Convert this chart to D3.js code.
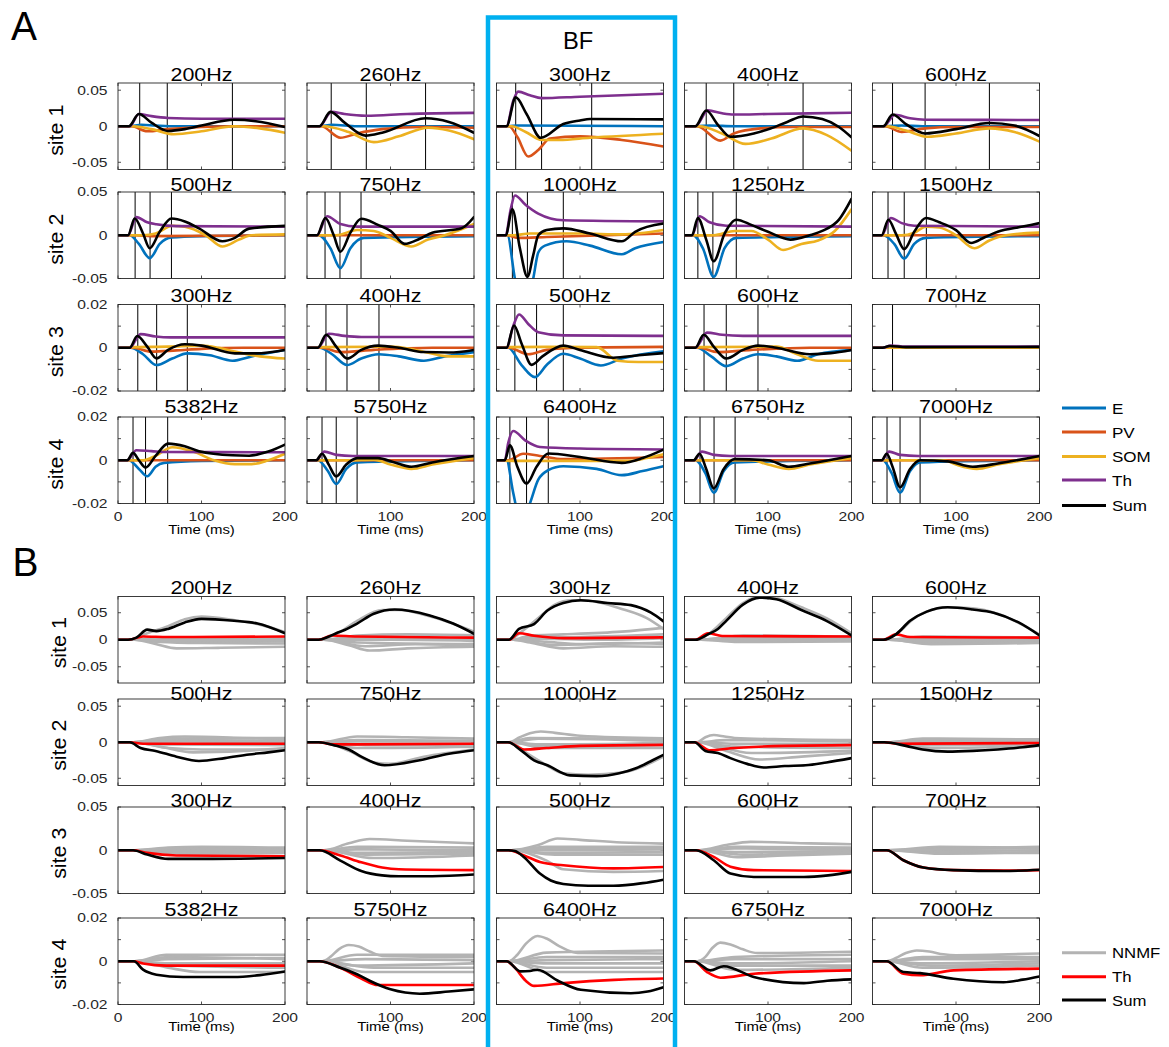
<!DOCTYPE html>
<html><head><meta charset="utf-8">
<script src="https://cdn.jsdelivr.net/npm/d3@7"></script>
<style>body{margin:0;background:#fff}</style>
</head><body><svg id="c" width="1169" height="1047"></svg>
<script>
// ================= DATA =================
const titlesRow1 = ["200Hz","260Hz","300Hz","400Hz","600Hz"];
const titlesRow2 = ["500Hz","750Hz","1000Hz","1250Hz","1500Hz"];
const titlesRow3 = ["300Hz","400Hz","500Hz","600Hz","700Hz"];
const titlesRow4 = ["5382Hz","5750Hz","6400Hz","6750Hz","7000Hz"];
const siteLabels = ["site 1","site 2","site 3","site 4"];
const xTicks = [0,100,200];
const yMaxA = [0.06,0.05,0.02,0.02];
const yMaxB = [0.08,0.06,0.05,0.02];
const yTicksWide = [-0.05,0,0.05];
const yTicksNarrow = [-0.02,-0.01,0,0.01,0.02];
const yLabelsWide = ["-0.05","0","0.05"];
const yLabelsNarrow = ["-0.02","","0","","0.02"];
const legendA = ["E","PV","SOM","Th","Sum"];
const legendB = ["NNMF","Th","Sum"];

// ---- Panel A: [time(ms), value] ----
// site 1
const a11E=[[0,0],[14,0],[28,0.002],[45,0.001],[70,0],[200,0]];
const a11P=[[0,0],[16,0],[35,-0.007],[60,-0.004],[100,-0.001],[140,0],[200,0]];
const a11S=[[0,0],[18,0],[40,-0.004],[67,-0.011],[100,-0.007],[140,0],[170,-0.003],[200,-0.009]];
const a11T=[[0,0],[14,0],[25,0.017],[40,0.014],[60,0.0115],[100,0.0105],[200,0.0105]];
const a11Sum=[[0,0],[13,0],[25,0.017],[40,0.005],[60,-0.0065],[80,-0.004],[100,0.001],[139,0.009],[165,0.007],[200,-0.001]];
const a11V=[26,59,137];

const a12E=[[0,0],[15,0],[30,0.002],[60,0],[200,0]];
const a12P=[[0,0],[17,0],[40,-0.016],[60,-0.01],[90,-0.004],[140,-0.001],[200,-0.002]];
const a12S=[[0,0],[20,0],[50,-0.008],[80,-0.022],[110,-0.014],[145,-0.002],[170,-0.006],[200,-0.018]];
const a12T=[[0,0],[15,0],[29,0.02],[45,0.017],[71,0.0146],[120,0.017],[200,0.0185]];
const a12Sum=[[0,0],[15,0],[28,0.02],[45,0.005],[70,-0.013],[90,-0.009],[142,0.011],[170,0.006],[200,-0.009]];
const a12V=[29,71,142];

const a13E=[[0,0],[15,0],[25,0.001],[200,0]];
const a13P=[[0,0],[15,0],[25,-0.015],[38,-0.042],[50,-0.033],[64,-0.017],[100,-0.014],[150,-0.019],[200,-0.028]];
const a13S=[[0,0],[18,0],[35,-0.008],[54,-0.019],[75,-0.019],[112,-0.016],[200,-0.0105]];
const a13T=[[0,0],[12,0],[20,0.035],[26,0.048],[40,0.043],[54,0.039],[100,0.041],[200,0.045]];
const a13Sum=[[0,0],[12,0],[23,0.040],[36,0.017],[53,-0.016],[80,0.003],[100,0.008],[112,0.010],[200,0.0095]];
const a13V=[23,54,114];

const a14E=[[0,0],[15,0],[30,0.001],[60,0],[200,0]];
const a14P=[[0,0],[15,0],[43,-0.020],[59,-0.010],[91,-0.003],[130,-0.001],[200,-0.001]];
const a14S=[[0,0],[18,0],[45,-0.01],[73,-0.0245],[104,-0.017],[142,-0.003],[170,-0.012],[200,-0.034]];
const a14T=[[0,0],[13,0],[28,0.022],[45,0.018],[59,0.0163],[100,0.017],[200,0.0187]];
const a14Sum=[[0,0],[13,0],[26,0.0218],[40,0.002],[55,-0.0146],[83,-0.010],[103,-0.003],[123,0.006],[142,0.0136],[165,0.010],[185,-0.001],[200,-0.0154]];
const a14V=[26,59,142];

const a15E=[[0,0],[15,0],[35,0.001],[60,0],[200,0]];
const a15P=[[0,0],[15,0],[35,-0.0078],[63,-0.003],[100,-0.001],[200,-0.001]];
const a15S=[[0,0],[18,0],[40,-0.006],[66,-0.0146],[100,-0.010],[140,-0.003],[170,-0.008],[200,-0.0214]];
const a15T=[[0,0],[13,0],[27,0.016],[45,0.011],[63,0.009],[200,0.0087]];
const a15Sum=[[0,0],[13,0],[24,0.0163],[40,0.003],[63,-0.010],[100,-0.004],[140,0.0045],[170,0.001],[200,-0.0136]];
const a15V=[24,63,140];

// site 2
const a21E=[[0,0],[14,0],[25,-0.01],[38,-0.0265],[50,-0.01],[64,-0.0025],[100,-0.001],[200,0]];
const a21P=[[0,0],[20,0],[40,-0.001],[200,0]];
const a21S=[[0,0],[30,0],[45,0.002],[65,0.011],[80,0.010],[105,0],[125,-0.013],[145,-0.005],[160,0],[200,0.001]];
const a21T=[[0,0],[12,0],[22,0.021],[35,0.015],[46,0.0127],[70,0.0105],[200,0.010]];
const a21Sum=[[0,0],[12,0],[20,0.0193],[30,0.002],[38,-0.015],[50,0.004],[64,0.0193],[80,0.016],[97,0.008],[125,-0.0069],[140,-0.003],[157,0.0077],[200,0.0108]];
const a21V=[20.5,38.4,64];

const a22E=[[0,0],[14,0],[28,-0.015],[40,-0.038],[52,-0.015],[68,-0.003],[200,-0.001]];
const a22P=[[0,0],[200,0]];
const a22S=[[0,0],[35,0],[60,0.006],[80,0.005],[100,-0.003],[125,-0.013],[145,-0.005],[165,0],[200,0.013]];
const a22T=[[0,0],[12,0],[24,0.022],[40,0.013],[60,0.010],[200,0.010]];
const a22Sum=[[0,0],[12,0],[22,0.02],[32,0],[40,-0.019],[52,0.003],[65,0.019],[85,0.012],[100,0.005],[117,-0.01],[135,-0.004],[150,0.003],[185,0.008],[200,0.021]];
const a22V=[21.6,39.5,64.7];

const a23E=[[0,0],[13,0],[22,-0.05],[33,-0.09],[44,-0.05],[50,-0.02],[58,-0.012],[84,-0.007],[112,-0.012],[150,-0.022],[166,-0.015],[200,-0.0077]];
const a23P=[[0,0],[13,0],[25,-0.003],[60,-0.002],[200,0.002]];
const a23S=[[0,0],[20,0],[40,0.002],[100,0.002],[150,0.001],[200,0.006]];
const a23T=[[0,0],[11,0],[17,0.03],[22,0.046],[35,0.035],[50,0.025],[80,0.0173],[200,0.016]];
const a23Sum=[[0,0],[11,0],[19,0.030],[28,-0.015],[37,-0.048],[44,-0.023],[50,0.0],[60,0.006],[80,0.008],[112,0.002],[150,-0.007],[166,0.004],[200,0.0135]];
const a23V=[19,37,80];

const a24E=[[0,0],[10,0],[22,-0.015],[35,-0.048],[48,-0.015],[62,-0.003],[200,-0.001]];
const a24P=[[0,0],[200,0]];
const a24S=[[0,0],[35,0],[60,0.005],[80,0.005],[100,-0.005],[118,-0.017],[140,-0.01],[160,-0.006],[180,0.005],[200,0.030]];
const a24T=[[0,0],[9,0],[18,0.022],[30,0.015],[50,0.011],[200,0.010]];
const a24Sum=[[0,0],[9,0],[16,0.02],[26,-0.005],[35,-0.030],[48,0.002],[62,0.018],[80,0.012],[100,0.004],[127,-0.005],[150,0.0],[165,0.005],[185,0.018],[200,0.042]];
const a24V=[16,34,62];

const a25E=[[0,0],[13,0],[26,-0.01],[38,-0.027],[50,-0.01],[64,-0.003],[200,-0.001]];
const a25P=[[0,0],[200,0]];
const a25S=[[0,0],[35,0],[50,0.003],[64,0.010],[80,0.009],[100,0.0],[122,-0.015],[140,-0.006],[160,0],[200,0.003]];
const a25T=[[0,0],[11,0],[22,0.020],[35,0.014],[50,0.011],[200,0.010]];
const a25Sum=[[0,0],[11,0],[19,0.018],[28,0.002],[38,-0.016],[50,0.004],[64,0.020],[80,0.015],[100,0.006],[118,-0.009],[135,-0.002],[150,0.004],[180,0.01],[200,0.014]];
const a25V=[18.6,38,64.5];

// site 3
const a31E=[[0,0],[15,0],[30,-0.003],[46,-0.008],[65,-0.005],[83,-0.0026],[110,-0.0035],[137,-0.006],[160,-0.004],[200,-0.001]];
const a31P=[[0,0],[18,0],[40,-0.0018],[70,-0.0012],[100,-0.0005],[150,0],[200,0]];
const a31S=[[0,0],[20,0.0003],[60,0.0005],[100,0.001],[120,0],[140,-0.0018],[170,-0.004],[200,-0.005]];
const a31T=[[0,0],[14,0],[27,0.0063],[45,0.0052],[63,0.0048],[200,0.0048]];
const a31Sum=[[0,0],[14,0],[23,0.0054],[35,0.0005],[46,-0.0049],[60,-0.001],[80,0.0016],[100,0.001],[140,-0.0026],[165,-0.0026],[200,-0.001]];
const a31V=[23.7,46.3,83];

const a32E=[[0,0],[15,0],[30,-0.003],[48,-0.008],[65,-0.005],[86,-0.003],[110,-0.004],[140,-0.006],[165,-0.004],[200,-0.002]];
const a32P=[[0,0],[18,0],[40,-0.002],[80,-0.001],[150,0],[200,0]];
const a32S=[[0,0],[20,0.0003],[100,0.0005],[130,-0.001],[170,-0.004],[200,-0.004]];
const a32T=[[0,0],[13,0],[26,0.0065],[45,0.0055],[65,0.005],[200,0.005]];
const a32Sum=[[0,0],[13,0],[23,0.006],[35,0.0005],[48,-0.005],[65,-0.001],[85,0.001],[110,0],[140,-0.002],[170,-0.0022],[200,-0.001]];
const a32V=[22.7,47.9,86.2];

const a33E=[[0,0],[14,0],[30,-0.008],[46,-0.0136],[60,-0.008],[80,-0.0028],[100,-0.005],[125,-0.0082],[150,-0.005],[200,-0.0016]];
const a33P=[[0,0],[15,0],[38,-0.003],[60,-0.001],[100,0],[200,0.0004]];
const a33S=[[0,0],[15,0.0003],[60,0.0004],[120,0.0003],[145,-0.006],[170,-0.0066],[200,-0.0066]];
const a33T=[[0,0],[12,0],[20,0.01],[27,0.0154],[38,0.011],[50,0.0072],[80,0.0057],[200,0.0055]];
const a33Sum=[[0,0],[12,0],[21,0.0103],[30,0.002],[42,-0.0079],[55,-0.004],[80,0.001],[100,-0.001],[140,-0.0046],[170,-0.0035],[200,-0.0025]];
const a33V=[22,48,80];

const a34E=[[0,0],[15,0],[32,-0.004],[50,-0.0085],[70,-0.005],[88,-0.003],[110,-0.004],[135,-0.006],[160,-0.003],[200,-0.001]];
const a34P=[[0,0],[18,0],[40,-0.002],[80,-0.001],[150,0],[200,0]];
const a34S=[[0,0],[20,0.0003],[110,0.0005],[135,-0.003],[160,-0.006],[200,-0.006]];
const a34T=[[0,0],[13,0],[27,0.007],[45,0.006],[70,0.0055],[200,0.0055]];
const a34Sum=[[0,0],[13,0],[23,0.006],[35,0.0005],[50,-0.005],[70,-0.001],[88,0.001],[110,0],[150,-0.003],[175,-0.0025],[200,-0.001]];
const a34V=[23.4,50,88];

const a35E=[[0,0],[200,0]];
const a35P=[[0,0],[200,0]];
const a35S=[[0,0],[200,0]];
const a35T=[[0,0],[12,0],[22,0.001],[40,0.0005],[200,0.0005]];
const a35Sum=[[0,0],[12,0],[20,0.0008],[40,0.0003],[200,0.0004]];
const a35V=[24];

// site 4
const a41E=[[0,0],[13,0],[25,-0.004],[35,-0.0074],[45,-0.003],[55,-0.0012],[100,-0.0003],[200,0]];
const a41P=[[0,0],[200,0]];
const a41S=[[0,0],[30,0],[45,0.002],[65,0.006],[90,0.004],[115,0],[140,-0.0018],[160,-0.0018],[180,0],[200,0.003]];
const a41T=[[0,0],[11,0],[22,0.0046],[40,0.0042],[58,0.0038],[200,0.0037]];
const a41Sum=[[0,0],[11,0],[18,0.0034],[25,0],[33,-0.0034],[45,0.002],[60,0.0077],[80,0.0065],[97,0.0042],[137,0.0023],[157,0.0021],[180,0.004],[200,0.0072]];
const a41V=[18,33,59.5];

const a42E=[[0,0],[13,0],[25,-0.005],[35,-0.011],[47,-0.004],[60,-0.001],[200,0]];
const a42P=[[0,0],[200,0]];
const a42S=[[0,0],[50,0],[80,0.0003],[100,-0.002],[125,-0.004],[150,-0.002],[200,0.001]];
const a42T=[[0,0],[11,0],[21,0.004],[35,0.0025],[55,0.002],[200,0.002]];
const a42Sum=[[0,0],[11,0],[18,0.003],[26,-0.002],[35,-0.0075],[47,-0.002],[60,0.001],[85,0.001],[105,-0.001],[125,-0.003],[150,-0.001],[200,0.002]];
const a42V=[18,35,60];

const a43E=[[0,0],[12,0],[20,-0.015],[30,-0.03],[40,-0.02],[50,-0.009],[62,-0.0046],[80,-0.0028],[120,-0.004],[150,-0.0069],[175,-0.005],[200,-0.0028]];
const a43P=[[0,0],[14,0],[32,0.003],[52,0.002],[80,0.0005],[200,0.0015]];
const a43S=[[0,0],[20,-0.0003],[160,-0.0003],[180,0.001],[200,0.0028]];
const a43T=[[0,0],[10,0],[14,0.008],[20,0.0135],[35,0.009],[52,0.0061],[100,0.0054],[200,0.005]];
const a43Sum=[[0,0],[10,0],[16,0.0069],[25,-0.003],[36,-0.0108],[48,-0.003],[62,0.0031],[100,0.0015],[150,-0.0012],[175,0.001],[200,0.0049]];
const a43V=[16,36,62];

const a44E=[[0,0],[13,0],[25,-0.006],[35,-0.015],[47,-0.005],[60,-0.001],[200,0]];
const a44P=[[0,0],[200,0]];
const a44S=[[0,0],[80,0],[100,-0.002],[125,-0.004],[150,-0.002],[200,0.001]];
const a44T=[[0,0],[11,0],[21,0.004],[35,0.0025],[55,0.002],[200,0.002]];
const a44Sum=[[0,0],[11,0],[18,0.003],[26,-0.004],[35,-0.013],[47,-0.004],[60,0.0005],[100,0],[125,-0.003],[150,-0.0015],[200,0.002]];
const a44V=[18.6,35.4,60.6];

const a45E=[[0,0],[12,0],[23,-0.006],[33,-0.015],[45,-0.005],[57,-0.001],[200,0]];
const a45P=[[0,0],[200,0]];
const a45S=[[0,0],[85,0],[100,-0.002],[125,-0.004],[150,-0.002],[200,0.001]];
const a45T=[[0,0],[11,0],[20,0.004],[33,0.0025],[55,0.002],[200,0.002]];
const a45Sum=[[0,0],[11,0],[17,0.003],[24,-0.003],[33,-0.0125],[45,-0.004],[57,0],[90,-0.0005],[120,-0.003],[150,-0.0015],[200,0.002]];
const a45V=[17.4,33,57];

// ---- Panel B: NNMF components (gray), Th (red), Sum (black) ----
const b11N=[[[0,0],[15,0],[35,0.012],[60,0.025],[80,0.038],[100,0.043],[140,0.036],[170,0.028],[200,0.014]],
 [[0,0],[20,0],[45,-0.008],[70,-0.016],[120,-0.015],[200,-0.013]],
 [[0,0],[20,0],[50,-0.004],[100,-0.006],[200,-0.007]],
 [[0,0],[20,0],[60,0.004],[120,0.004],[200,0.003]],
 [[0,0],[20,0],[60,-0.002],[200,-0.003]],
 [[0,0],[20,0],[40,0.002],[100,0.001],[200,0.002]],
 [[0,0],[20,0],[80,-0.001],[200,0]]];
const b11T=[[0,0],[12,0],[30,0.006],[60,0.005],[200,0.006]];
const b11Sum=[[0,0],[12,0],[22,0.004],[35,0.0187],[46,0.016],[60,0.02],[80,0.032],[100,0.0387],[139,0.035],[167,0.03],[200,0.012]];

const b12N=[[[0,0],[15,0],[40,0.015],[60,0.035],[90,0.055],[110,0.055],[150,0.042],[200,0.015]],
 [[0,0],[20,0],[50,-0.01],[75,-0.02],[120,-0.016],[200,-0.013]],
 [[0,0],[20,0],[60,0.008],[120,0.01],[200,0.008]],
 [[0,0],[20,0],[60,-0.005],[200,-0.008]],
 [[0,0],[20,0],[50,0.003],[200,0.002]],
 [[0,0],[20,0],[70,-0.012],[130,-0.008],[200,-0.01]],
 [[0,0],[20,0],[100,0],[200,-0.002]]];
const b12T=[[0,0],[14,0],[30,0.008],[60,0.006],[200,0.004]];
const b12Sum=[[0,0],[14,0],[25,0.005],[35,0.012],[45,0.018],[60,0.03],[80,0.048],[105,0.056],[147,0.045],[175,0.03],[200,0.011]];

const b13N=[[[0,0],[15,0],[30,0.015],[50,0.04],[70,0.065],[90,0.073],[110,0.072],[150,0.057],[180,0.04],[200,0.02]],
 [[0,0],[20,0],[40,-0.005],[80,-0.016],[140,-0.012],[200,-0.013]],
 [[0,0],[20,0],[40,0.008],[80,0.01],[150,0.015],[200,0.022]],
 [[0,0],[20,0],[40,0.004],[100,0.005],[200,0.01]],
 [[0,0],[20,0],[60,-0.004],[100,-0.008],[200,-0.005]],
 [[0,0],[20,0],[50,0.002],[120,0],[200,0.003]],
 [[0,0],[20,0],[70,-0.01],[150,-0.006],[200,-0.008]]];
const b13T=[[0,0],[15,0],[27,0.012],[45,0.0075],[81,0.003],[200,0.0044]];
const b13Sum=[[0,0],[15,0],[27,0.020],[45,0.029],[61,0.054],[80,0.068],[101,0.073],[133,0.068],[161,0.064],[185,0.05],[200,0.034]];

const b14N=[[[0,0],[14,0],[30,0.012],[50,0.04],[70,0.068],[90,0.08],[110,0.077],[140,0.06],[170,0.04],[200,0.012]],
 [[0,0],[20,0],[60,0.005],[200,0.004]],
 [[0,0],[20,0],[60,-0.004],[200,-0.003]],
 [[0,0],[20,0],[80,0.002],[200,0.001]],
 [[0,0],[20,0],[60,-0.002],[200,0]],
 [[0,0],[20,0],[70,0.008],[200,0.006]]];
const b14T=[[0,0],[13,0],[28,0.012],[45,0.007],[200,0.006]];
const b14Sum=[[0,0],[13,0],[28,0.01],[40,0.02],[50,0.035],[70,0.065],[90,0.078],[110,0.075],[140,0.055],[170,0.035],[200,0.008]];

const b15N=[[[0,0],[14,0],[30,0.012],[50,0.04],[70,0.055],[90,0.06],[120,0.058],[150,0.048],[200,0.01]],
 [[0,0],[20,0],[60,0.006],[200,0.004]],
 [[0,0],[20,0],[60,-0.005],[200,-0.004]],
 [[0,0],[20,0],[80,0.002],[200,0.002]],
 [[0,0],[20,0],[60,-0.002],[200,-0.001]],
 [[0,0],[20,0],[70,-0.008],[200,-0.006]]];
const b15T=[[0,0],[13,0],[28,0.01],[45,0.005],[200,0.004]];
const b15Sum=[[0,0],[13,0],[28,0.01],[45,0.035],[65,0.052],[90,0.06],[120,0.056],[145,0.05],[175,0.032],[200,0.008]];

const b21N=[[[0,0],[18,0],[50,0.006],[80,0.008],[150,0.006],[200,0.004]],
 [[0,0],[18,0],[60,0.003],[200,0.002]],
 [[0,0],[18,0],[50,-0.006],[90,-0.014],[150,-0.012],[200,-0.008]],
 [[0,0],[18,0],[60,-0.008],[100,-0.010],[200,-0.010]],
 [[0,0],[18,0],[50,-0.003],[200,-0.004]],
 [[0,0],[18,0],[80,0.001],[200,0]],
 [[0,0],[18,0],[60,0.005],[200,0.006]]];
const b21T=[[0,0],[14,0],[30,-0.002],[200,-0.002]];
const b21Sum=[[0,0],[14,0],[27,-0.008],[45,-0.012],[70,-0.02],[97,-0.026],[128,-0.022],[157,-0.017],[180,-0.014],[200,-0.011]];

const b22N=[[[0,0],[18,0],[50,-0.012],[80,-0.028],[100,-0.03],[140,-0.02],[200,-0.01]],
 [[0,0],[18,0],[60,0.008],[120,0.007],[200,0.005]],
 [[0,0],[18,0],[60,0.003],[200,0.002]],
 [[0,0],[18,0],[70,-0.004],[200,-0.003]],
 [[0,0],[18,0],[60,-0.008],[200,-0.006]],
 [[0,0],[18,0],[60,0.001],[200,0.001]]];
const b22T=[[0,0],[14,0],[30,-0.003],[200,-0.002]];
const b22Sum=[[0,0],[14,0],[35,-0.005],[50,-0.01],[65,-0.02],[93,-0.032],[135,-0.025],[170,-0.016],[200,-0.011]];

const b23N=[[[0,0],[15,0],[40,-0.018],[60,-0.032],[80,-0.043],[110,-0.045],[150,-0.042],[200,-0.02]],
 [[0,0],[15,0],[28,0.007],[40,0.0125],[53,0.015],[70,0.013],[100,0.009],[200,0.0055]],
 [[0,0],[15,0],[50,0.005],[200,0.002]],
 [[0,0],[15,0],[50,-0.003],[200,-0.001]],
 [[0,0],[15,0],[60,-0.008],[200,-0.008]],
 [[0,0],[15,0],[40,0.006],[200,0.004]],
 [[0,0],[15,0],[60,-0.005],[200,-0.004]]];
const b23T=[[0,0],[14,0],[33,-0.010],[60,-0.008],[100,-0.005],[200,-0.0037]];
const b23Sum=[[0,0],[14,0],[29,-0.011],[45,-0.025],[61,-0.032],[88,-0.046],[120,-0.047],[147,-0.043],[167,-0.036],[187,-0.025],[200,-0.0175]];

const b24N=[[[0,0],[15,0],[25,0.007],[35,0.01],[48,0.008],[60,0.006],[120,0.004],[200,0.003]],
 [[0,0],[15,0],[50,-0.012],[90,-0.024],[140,-0.02],[200,-0.015]],
 [[0,0],[15,0],[60,-0.006],[200,-0.008]],
 [[0,0],[15,0],[50,0.003],[200,0.001]],
 [[0,0],[15,0],[60,-0.002],[200,-0.002]],
 [[0,0],[15,0],[80,-0.015],[200,-0.012]]];
const b24T=[[0,0],[12,0],[30,-0.011],[60,-0.008],[120,-0.005],[200,-0.004]];
const b24Sum=[[0,0],[12,0],[25,-0.012],[40,-0.015],[55,-0.022],[75,-0.03],[95,-0.035],[120,-0.033],[145,-0.032],[170,-0.028],[200,-0.022]];

const b25N=[[[0,0],[18,0],[60,0.005],[200,0.004]],
 [[0,0],[18,0],[60,-0.004],[200,-0.003]],
 [[0,0],[18,0],[70,-0.008],[200,-0.005]],
 [[0,0],[18,0],[50,0.002],[200,0.002]],
 [[0,0],[18,0],[70,0.000],[200,0.001]],
 [[0,0],[18,0],[60,-0.002],[200,-0.001]]];
const b25T=[[0,0],[14,0],[30,-0.002],[200,-0.001]];
const b25Sum=[[0,0],[14,0],[40,-0.005],[60,-0.01],[90,-0.013],[120,-0.012],[150,-0.01],[180,-0.007],[200,-0.004]];

const b31N=[[[0,0],[20,0],[60,0.003],[100,0.004],[200,0.003]],
 [[0,0],[20,0],[60,0.001],[200,0.001]],
 [[0,0],[20,0],[60,-0.002],[200,-0.001]],
 [[0,0],[20,0],[80,-0.004],[200,-0.003]],
 [[0,0],[20,0],[60,0.002],[200,0]],
 [[0,0],[20,0],[80,-0.001],[200,-0.002]]];
const b31T=[[0,0],[18,0],[35,-0.003],[70,-0.006],[200,-0.007]];
const b31Sum=[[0,0],[18,0],[35,-0.005],[60,-0.01],[100,-0.01],[200,-0.009]];

const b32N=[[[0,0],[20,0],[50,0.008],[75,0.013],[120,0.011],[200,0.008]],
 [[0,0],[20,0],[60,0.004],[200,0.003]],
 [[0,0],[20,0],[60,-0.003],[200,-0.002]],
 [[0,0],[20,0],[80,-0.009],[200,-0.006]],
 [[0,0],[20,0],[60,0.001],[200,0]],
 [[0,0],[20,0],[70,-0.005],[200,-0.004]]];
const b32T=[[0,0],[15,0],[40,-0.006],[65,-0.014],[90,-0.02],[110,-0.022],[200,-0.023]];
const b32Sum=[[0,0],[15,0],[40,-0.012],[65,-0.024],[90,-0.029],[110,-0.03],[150,-0.03],[200,-0.028]];

const b33N=[[[0,0],[18,0],[50,0.006],[73,0.0136],[100,0.012],[150,0.009],[200,0.0077]],
 [[0,0],[18,0],[60,0.004],[200,0.004]],
 [[0,0],[18,0],[60,0.0],[200,0.001]],
 [[0,0],[18,0],[60,-0.003],[200,-0.002]],
 [[0,0],[18,0],[60,-0.012],[80,-0.022],[140,-0.025],[200,-0.024]],
 [[0,0],[18,0],[70,-0.005],[200,-0.005]],
 [[0,0],[18,0],[60,0.002],[200,0.002]]];
const b33T=[[0,0],[14,0],[33,-0.006],[52,-0.0136],[80,-0.0174],[140,-0.021],[200,-0.0194]];
const b33Sum=[[0,0],[14,0],[22,-0.001],[33,-0.008],[52,-0.027],[65,-0.035],[80,-0.039],[110,-0.041],[140,-0.041],[175,-0.038],[200,-0.034]];

const b34N=[[[0,0],[18,0],[50,0.006],[79,0.0097],[150,0.008],[200,0.007]],
 [[0,0],[18,0],[60,0.002],[200,0.001]],
 [[0,0],[18,0],[63,-0.008],[120,-0.006],[200,-0.004]],
 [[0,0],[18,0],[60,-0.002],[200,-0.001]],
 [[0,0],[18,0],[60,0.004],[200,0.003]],
 [[0,0],[18,0],[70,-0.005],[200,-0.002]]];
const b34T=[[0,0],[14,0],[35,-0.0077],[55,-0.019],[83,-0.023],[200,-0.024]];
const b34Sum=[[0,0],[14,0],[35,-0.0116],[55,-0.027],[83,-0.031],[143,-0.031],[172,-0.029],[200,-0.025]];

const b35N=[[[0,0],[18,0],[80,0.004],[200,0.003]],
 [[0,0],[18,0],[80,0.002],[200,0.002]],
 [[0,0],[18,0],[80,-0.001],[200,0]],
 [[0,0],[18,0],[80,-0.003],[200,-0.003]],
 [[0,0],[18,0],[80,-0.004],[200,-0.002]],
 [[0,0],[18,0],[80,0.001],[200,0.004]]];
const b35T=[[0,0],[17,0],[37,-0.0116],[61,-0.020],[97,-0.023],[157,-0.0235],[200,-0.023]];
const b35Sum=[[0,0],[17,0],[37,-0.0116],[61,-0.020],[97,-0.023],[157,-0.024],[200,-0.0225]];

const b41N=[[[0,0],[20,0],[58,0.003],[200,0.003]],
 [[0,0],[20,0],[60,0.002],[200,0.001]],
 [[0,0],[20,0],[60,0.001],[200,0.0015]],
 [[0,0],[20,0],[60,-0.003],[98,-0.005],[200,-0.005]],
 [[0,0],[20,0],[60,-0.001],[200,-0.001]],
 [[0,0],[20,0],[60,-0.002],[200,-0.003]]];
const b41T=[[0,0],[19,0],[30,-0.001],[58,-0.002],[200,-0.002]];
const b41Sum=[[0,0],[19,0],[30,-0.0039],[46,-0.0062],[78,-0.0073],[138,-0.0073],[170,-0.0064],[200,-0.0047]];

const b42N=[[[0,0],[18,0],[28,0.002],[38,0.0055],[50,0.0075],[62,0.0068],[75,0.0045],[90,0.0025],[200,0.002]],
 [[0,0],[18,0],[60,0.003],[200,0.003]],
 [[0,0],[18,0],[60,-0.002],[200,-0.001]],
 [[0,0],[18,0],[70,-0.005],[200,-0.005]],
 [[0,0],[18,0],[70,0.001],[200,0.0005]],
 [[0,0],[18,0],[80,-0.003],[200,-0.003]]];
const b42T=[[0,0],[15,0],[45,-0.004],[65,-0.008],[85,-0.011],[200,-0.011]];
const b42Sum=[[0,0],[15,0],[40,-0.003],[60,-0.006],[75,-0.009],[100,-0.013],[135,-0.015],[170,-0.014],[200,-0.013]];

const b43N=[[[0,0],[15,0],[25,0.003],[35,0.008],[49,0.0117],[60,0.0105],[75,0.007],[97,0.0038],[200,0.0036]],
 [[0,0],[15,0],[60,0.004],[200,0.005]],
 [[0,0],[15,0],[60,0.002],[200,0.002]],
 [[0,0],[15,0],[60,-0.001],[200,-0.001]],
 [[0,0],[15,0],[60,-0.005],[200,-0.005]],
 [[0,0],[15,0],[60,-0.003],[200,-0.003]],
 [[0,0],[15,0],[60,0.0005],[200,0.001]]];
const b43T=[[0,0],[12,0],[21,-0.0026],[35,-0.009],[45,-0.0114],[81,-0.0101],[141,-0.0086],[200,-0.008]];
const b43Sum=[[0,0],[12,0],[29,-0.0047],[40,-0.0045],[49,-0.0039],[73,-0.0089],[101,-0.0132],[161,-0.0148],[181,-0.014],[200,-0.012]];

const b44N=[[[0,0],[15,0],[25,0.002],[33,0.006],[43,0.0086],[55,0.0078],[70,0.0055],[87,0.0038],[200,0.0044]],
 [[0,0],[15,0],[60,0.002],[200,0.003]],
 [[0,0],[15,0],[60,-0.001],[200,0]],
 [[0,0],[15,0],[60,-0.004],[200,-0.003]],
 [[0,0],[15,0],[60,0.001],[200,0.001]],
 [[0,0],[15,0],[60,-0.002],[200,-0.002]]];
const b44T=[[0,0],[11,0],[27,-0.005],[43,-0.0076],[83,-0.0058],[200,-0.0042]];
const b44Sum=[[0,0],[11,0],[31,-0.0042],[47,-0.0023],[83,-0.0073],[143,-0.0101],[171,-0.009],[200,-0.0084]];

const b45N=[[[0,0],[17,0],[28,0.0015],[40,0.0038],[53,0.005],[68,0.0045],[85,0.0032],[100,0.0028],[200,0.0036]],
 [[0,0],[17,0],[60,0.002],[200,0.002]],
 [[0,0],[17,0],[60,-0.001],[200,0]],
 [[0,0],[17,0],[60,-0.003],[200,-0.002]],
 [[0,0],[17,0],[60,0.001],[200,0.001]],
 [[0,0],[17,0],[70,-0.002],[200,-0.001]]];
const b45T=[[0,0],[17,0],[37,-0.0058],[57,-0.0065],[97,-0.0042],[200,-0.0034]];
const b45Sum=[[0,0],[17,0],[37,-0.005],[57,-0.0055],[97,-0.0081],[157,-0.0097],[180,-0.0085],[200,-0.007]];

// ================= TABLES built from the arrays =================
const titles = [titlesRow1,titlesRow2,titlesRow3,titlesRow4];
const A = [
 [[a11E,a11P,a11S,a11T,a11Sum,a11V],[a12E,a12P,a12S,a12T,a12Sum,a12V],[a13E,a13P,a13S,a13T,a13Sum,a13V],[a14E,a14P,a14S,a14T,a14Sum,a14V],[a15E,a15P,a15S,a15T,a15Sum,a15V]],
 [[a21E,a21P,a21S,a21T,a21Sum,a21V],[a22E,a22P,a22S,a22T,a22Sum,a22V],[a23E,a23P,a23S,a23T,a23Sum,a23V],[a24E,a24P,a24S,a24T,a24Sum,a24V],[a25E,a25P,a25S,a25T,a25Sum,a25V]],
 [[a31E,a31P,a31S,a31T,a31Sum,a31V],[a32E,a32P,a32S,a32T,a32Sum,a32V],[a33E,a33P,a33S,a33T,a33Sum,a33V],[a34E,a34P,a34S,a34T,a34Sum,a34V],[a35E,a35P,a35S,a35T,a35Sum,a35V]],
 [[a41E,a41P,a41S,a41T,a41Sum,a41V],[a42E,a42P,a42S,a42T,a42Sum,a42V],[a43E,a43P,a43S,a43T,a43Sum,a43V],[a44E,a44P,a44S,a44T,a44Sum,a44V],[a45E,a45P,a45S,a45T,a45Sum,a45V]]
];
const B = [
 [[b11N,b11T,b11Sum],[b12N,b12T,b12Sum],[b13N,b13T,b13Sum],[b14N,b14T,b14Sum],[b15N,b15T,b15Sum]],
 [[b21N,b21T,b21Sum],[b22N,b22T,b22Sum],[b23N,b23T,b23Sum],[b24N,b24T,b24Sum],[b25N,b25T,b25Sum]],
 [[b31N,b31T,b31Sum],[b32N,b32T,b32Sum],[b33N,b33T,b33Sum],[b34N,b34T,b34Sum],[b35N,b35T,b35Sum]],
 [[b41N,b41T,b41Sum],[b42N,b42T,b42Sum],[b43N,b43T,b43Sum],[b44N,b44T,b44Sum],[b45N,b45T,b45Sum]]
];

// ================= LAYOUT / STYLE =================
const FONT = "'Liberation Sans', Arial, Helvetica, sans-serif";
const colorsA = ["#0072BD","#D95319","#EDB120","#7E2F8E","#000000"];
const colorsB = ["#b3b3b3","#ff0000","#000000"];
const colX = [118, 307, 496.5, 684.5, 872.5];
const plotW = 167;
const plotH = 86.5;
const rowTopA = [83, 192, 304.5, 417];
const rowTopB = [596.5, 699, 807, 918];
const titleBaseA = [80.5, 191, 301.5, 412.5];
const titleBaseB = [594, 700, 806.5, 916];
const LW = 2.6;

const svg = d3.select("#c");
const defs = svg.append("defs");

function txt(g, x, y, s, o) {
  return g.append("text")
    .attr("transform", `translate(${x},${y}) rotate(${o.rot||0}) scale(${o.sx||1},1)`)
    .attr("font-family", FONT).attr("font-size", o.size)
    .attr("text-anchor", o.anchor || "middle")
    .attr("fill", o.fill || "#000").text(s);
}

let clipId = 0;
function panel(x0, y0, ymax, ticks, tickLabels, showYLabels, xLabelMode, xLabelY, timeY) {
  const g = svg.append("g");
  const x = d3.scaleLinear().domain([0,200]).range([x0, x0+plotW]);
  const y = d3.scaleLinear().domain([-ymax, ymax]).range([y0+plotH, y0]);
  const id = "clip" + (clipId++);
  defs.append("clipPath").attr("id", id).append("rect")
    .attr("x", x0).attr("y", y0).attr("width", plotW).attr("height", plotH);
  const tk = g.append("g").attr("stroke", "#262626").attr("stroke-width", 0.8);
  ticks.forEach(v => {
    tk.append("line").attr("x1", x0).attr("x2", x0+3).attr("y1", y(v)).attr("y2", y(v));
    tk.append("line").attr("x1", x0+plotW).attr("x2", x0+plotW-3).attr("y1", y(v)).attr("y2", y(v));
  });
  xTicks.forEach(v => {
    tk.append("line").attr("x1", x(v)).attr("x2", x(v)).attr("y1", y0+plotH).attr("y2", y0+plotH-3);
    tk.append("line").attr("x1", x(v)).attr("x2", x(v)).attr("y1", y0).attr("y2", y0+3);
  });
  if (showYLabels) {
    ticks.forEach((v,i) => {
      if (tickLabels[i] !== "") txt(g, x0-10.5, y(v)+4.3, tickLabels[i], {size:12.5, anchor:"end", sx:1.25, fill:"#262626"});
    });
  }
  if (xLabelMode) {
    xTicks.forEach(v => {
      if (v === 0 && xLabelMode !== "all") return;
      txt(g, x(v), xLabelY, String(v), {size:12.5, sx:1.25, fill:"#262626"});
    });
    txt(g, x0+plotW/2, timeY, "Time (ms)", {size:13, sx:1.15});
  }
  const plotG = g.append("g").attr("clip-path", `url(#${id})`);
  return {g, plotG, x, y, frame: () => g.append("rect").attr("x", x0).attr("y", y0)
      .attr("width", plotW).attr("height", plotH).attr("fill", "none")
      .attr("stroke", "#262626").attr("stroke-width", 0.9)};
}

function drawLine(p, data, color, w) {
  const line = d3.line().x(d => p.x(d[0])).y(d => p.y(d[1])).curve(d3.curveMonotoneX);
  p.plotG.append("path").datum(data).attr("d", line).attr("fill", "none")
    .attr("stroke", color).attr("stroke-width", w).attr("stroke-linejoin", "round").attr("stroke-linecap", "round");
}

// ---------- Panel A ----------
for (let r = 0; r < 4; r++) {
  const ticks = r < 2 ? yTicksWide : yTicksNarrow;
  const labels = r < 2 ? yLabelsWide : yLabelsNarrow;
  for (let c = 0; c < 5; c++) {
    const mode = r === 3 ? (c === 0 ? "all" : "noZero") : null;
    const p = panel(colX[c], rowTopA[r], yMaxA[r], ticks, labels, c === 0, mode, 520.5, 533.5);
    const d = A[r][c];
    d[5].forEach(t => p.plotG.append("line").attr("x1", p.x(t)).attr("x2", p.x(t))
      .attr("y1", rowTopA[r]).attr("y2", rowTopA[r]+plotH).attr("stroke", "#000").attr("stroke-width", 1));
    for (let s = 0; s < 5; s++) drawLine(p, d[s], colorsA[s], LW);
    p.frame();
    txt(svg, colX[c]+plotW/2, titleBaseA[r], titles[r][c], {size:18.5, sx:1.16});
  }
  txt(svg, 62.5, rowTopA[r]+plotH/2+4, siteLabels[r], {size:19.5, rot:-90, sx:1.1});
}

// ---------- Panel B ----------
for (let r = 0; r < 4; r++) {
  const ticks = r < 3 ? yTicksWide : yTicksNarrow;
  const labels = r < 3 ? yLabelsWide : yLabelsNarrow;
  for (let c = 0; c < 5; c++) {
    const mode = r === 3 ? (c === 0 ? "all" : "noZero") : null;
    const p = panel(colX[c], rowTopB[r], yMaxB[r], ticks, labels, c === 0, mode, 1021.5, 1031);
    const d = B[r][c];
    d[0].forEach(s => drawLine(p, s, colorsB[0], LW));
    drawLine(p, d[1], colorsB[1], LW);
    drawLine(p, d[2], colorsB[2], LW);
    p.frame();
    txt(svg, colX[c]+plotW/2, titleBaseB[r], titles[r][c], {size:18.5, sx:1.16});
  }
  txt(svg, 66, rowTopB[r]+plotH/2+3, siteLabels[r], {size:19.5, rot:-90, sx:1.1});
}

// ---------- Legends ----------
const legYA = [408, 432, 456.5, 480, 505.5];
legendA.forEach((n,i) => {
  svg.append("line").attr("x1", 1062).attr("x2", 1106).attr("y1", legYA[i]).attr("y2", legYA[i])
    .attr("stroke", colorsA[i]).attr("stroke-width", 3);
  txt(svg, 1112, legYA[i]+5.5, n, {size:15.5, anchor:"start", sx:1.1});
});
const legYB = [952.7, 976.7, 1000];
legendB.forEach((n,i) => {
  svg.append("line").attr("x1", 1062).attr("x2", 1106).attr("y1", legYB[i]).attr("y2", legYB[i])
    .attr("stroke", colorsB[i]).attr("stroke-width", 3);
  txt(svg, 1112, legYB[i]+5.5, n, {size:15.5, anchor:"start", sx:1.08});
});

// ---------- Panel letters, BF box ----------
txt(svg, 11, 40, "A", {size:41, anchor:"start", sx:0.95});
txt(svg, 12.5, 575.5, "B", {size:41, anchor:"start", sx:0.95});
svg.append("rect").attr("x", 488).attr("y", 17.5).attr("width", 187).attr("height", 1060)
  .attr("fill", "none").attr("stroke", "#00B0F0").attr("stroke-width", 4.5);
txt(svg, 578, 48.5, "BF", {size:23, sx:1.03});
</script>
</body></html>
